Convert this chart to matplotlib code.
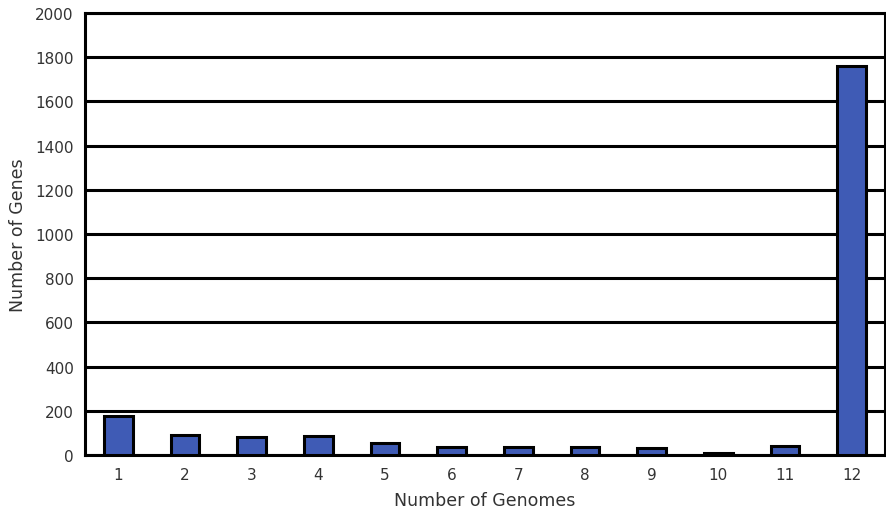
import matplotlib
matplotlib.use("Agg")
import matplotlib.pyplot as plt

genomes = [1, 2, 3, 4, 5, 6, 7, 8, 9, 10, 11, 12]
genes = [176, 90, 81, 86, 52, 36, 34, 35, 30, 10, 41, 1760]
yticks = [0, 200, 400, 600, 800, 1000, 1200, 1400, 1600, 1800, 2000]

fig = plt.figure(figsize=(8.87, 5.10), dpi=100)
ax = fig.add_axes([0.0958, 0.1059, 0.902, 0.8666])
ax.set_axisbelow(True)
ax.bar(genomes, genes, width=0.43, color="#3F5BB5", edgecolor="black", linewidth=2.2, zorder=3)
ax.set_xlim(0.5, 12.5)
ax.set_ylim(0, 2000)
ax.set_yticks(yticks)
ax.set_xticks(genomes)
ax.yaxis.grid(True, color="black", linewidth=2.2)
for s in ax.spines.values():
    s.set_linewidth(2.2)
    s.set_color("black")
ax.tick_params(axis="y", length=0, labelsize=11, pad=8, labelcolor="#333333")
ax.tick_params(axis="x", length=0, labelsize=11, pad=9, labelcolor="#333333")
ax.set_xlabel("Number of Genomes", fontsize=12.5, labelpad=6, color="#333333")
ax.set_ylabel("Number of Genes", fontsize=12.5, labelpad=6, color="#333333")
fig.savefig("out.png", dpi=100)
